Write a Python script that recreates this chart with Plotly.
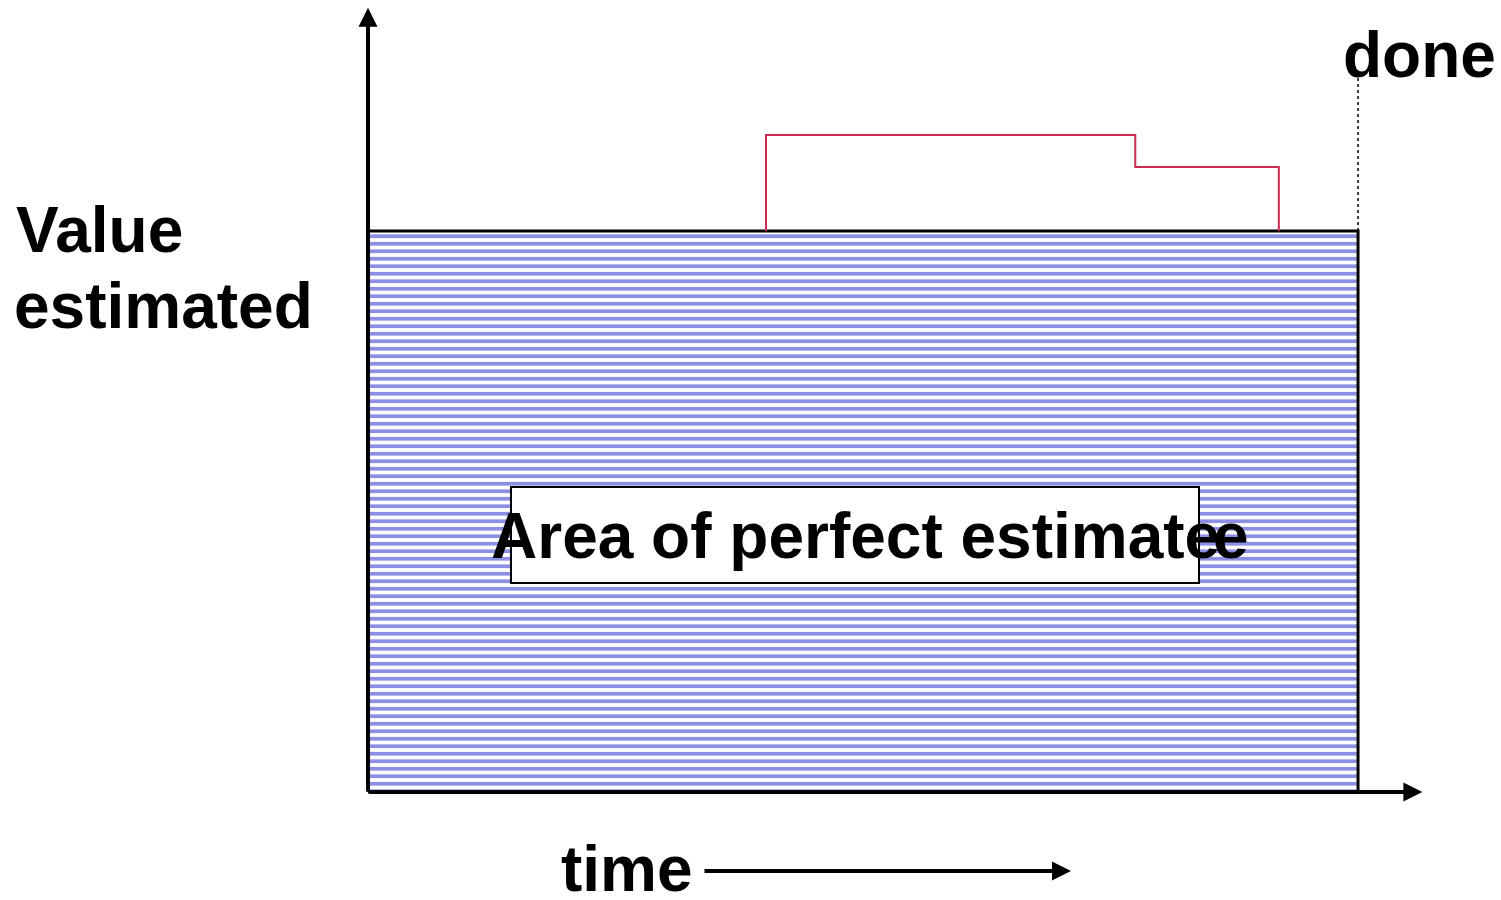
import plotly.graph_objects as go

# ---- data (time in % of "done", value in % of estimate) ----
perfect_time = [0, 0, 100, 100, 0]
perfect_value = [0, 100, 100, 0, 0]
actual_time = [40.2, 40.2, 77.5, 77.5, 92.0, 92.0]
actual_value = [100, 117.1, 117.1, 111.4, 111.4, 100]
done_time = [100, 100]
done_value = [100, 127.3]
x_axis_end = 106.5
y_axis_end = 139.8

W, H = 1501, 900
X_RANGE = [-37.17, 114.44]
Y_RANGE = [-19.25, 141.18]

def px(x):
    return x / W

def py(y):
    return 1 - y / H

FONT = "Liberation Sans, Arial, sans-serif"

fig = go.Figure()

fig.add_trace(go.Scatter(
    x=perfect_time, y=perfect_value, mode="lines", fill="toself",
    fillcolor="white",
    fillpattern=dict(shape="-", fgcolor="#1a22cc", bgcolor="white",
                     size=7.5, solidity=0.5),
    line=dict(color="black", width=3), hoverinfo="skip", showlegend=False))

fig.add_trace(go.Scatter(
    x=actual_time, y=actual_value, mode="lines",
    line=dict(color="#cc2b52", width=2), hoverinfo="skip", showlegend=False))

fig.add_trace(go.Scatter(
    x=done_time, y=done_value, mode="lines",
    line=dict(color="black", width=1.5, dash="dot"), hoverinfo="skip", showlegend=False))

# white label box
fig.add_shape(type="rect", xref="paper", yref="paper",
              x0=px(511), x1=px(1199), y0=py(583), y1=py(487),
              fillcolor="white", line=dict(color="black", width=2), layer="above")

ARROW = dict(text="", showarrow=True, arrowhead=2, arrowsize=0.95, arrowwidth=4,
             arrowcolor="black")
ann = []
# axes arrows
ann.append(dict(x=0, y=y_axis_end, ax=0, ay=0, xref="x", yref="y", axref="x", ayref="y", **ARROW))
ann.append(dict(x=x_axis_end, y=0, ax=0, ay=0, xref="x", yref="y", axref="x", ayref="y", **ARROW))
# time arrow
ann.append(dict(x=px(1071), y=py(871), xref="paper", yref="paper", ax=-(1071 - 703), ay=0,
                axref="pixel", ayref="pixel", **ARROW))

def label(text, x, y, xanchor="left"):
    return dict(x=px(x), y=py(y), xref="paper", yref="paper", text=f"<b>{text}</b>",
                showarrow=False, xanchor=xanchor, yanchor="middle", borderpad=0,
                font=dict(family=FONT, size=64, color="black"))

ann.append(label("Value", 15, 230))
ann.append(label("estimated", 13, 306))
ann.append(label("done", 1342, 55))
ann.append(label("time", 560, 869))
ann.append(label("Area of perfect estimate", 490, 536))
ann.append(label("e", 1250, 536, xanchor="right"))

fig.update_layout(
    width=W, height=H, autosize=False,
    margin=dict(l=0, r=0, t=0, b=0),
    paper_bgcolor="white", plot_bgcolor="white",
    xaxis=dict(range=X_RANGE, visible=False, fixedrange=True),
    yaxis=dict(range=Y_RANGE, visible=False, fixedrange=True),
    annotations=ann,
    showlegend=False,
)

fig.write_html("out.html", config={"displayModeBar": False},
               post_script="document.body.style.margin='0';document.body.style.overflow='hidden';")
